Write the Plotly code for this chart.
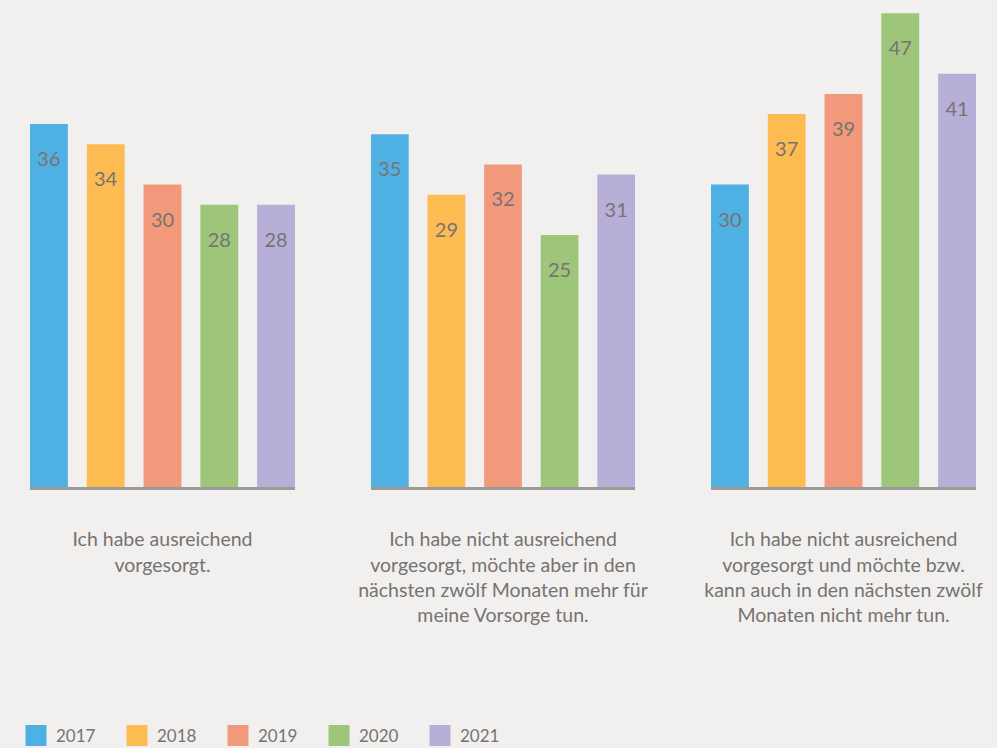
import plotly.graph_objects as go
from plotly.subplots import make_subplots

# Survey answers (one panel each) and the share of respondents per year, in %
categories = [
    "Ich habe ausreichend<br>vorgesorgt.",
    "Ich habe nicht ausreichend<br>vorgesorgt, möchte aber in den<br>nächsten zwölf Monaten mehr für<br>meine Vorsorge tun.",
    "Ich habe nicht ausreichend<br>vorgesorgt und möchte bzw.<br>kann auch in den nächsten zwölf<br>Monaten nicht mehr tun.",
]
years = ["2017", "2018", "2019", "2020", "2021"]
values = {
    "2017": [36, 35, 30],
    "2018": [34, 29, 37],
    "2019": [30, 32, 39],
    "2020": [28, 25, 47],
    "2021": [28, 31, 41],
}
colors = {
    "2017": "#4fb0e3",
    "2018": "#fdbc52",
    "2019": "#f2997b",
    "2020": "#9dc67a",
    "2021": "#b8afd8",
}

BG = "#f1f0ee"
TEXT = "#777371"
FONT = "Lato"

fig = make_subplots(rows=1, cols=3, horizontal_spacing=0.0)

for ci, cat in enumerate(categories):
    for y in years:
        fig.add_trace(
            go.Bar(
                x=[cat],
                y=[values[y][ci]],
                name=y,
                marker=dict(color=colors[y], line=dict(width=0)),
                text=[values[y][ci]],
                # a small blank first line keeps the value a little below the bar top
                texttemplate="<span style='font-size:13px'>\u00a0</span><br>%{y}",
                textposition="inside",
                insidetextanchor="end",
                textangle=0,
                textfont=dict(family=FONT, size=20, color=TEXT),
                showlegend=False,
                hoverinfo="skip",
            ),
            row=1, col=ci + 1,
        )

# Legend entries with large square swatches
for y in years:
    fig.add_trace(
        go.Scatter(
            x=[None], y=[None], mode="markers", name=y,
            marker=dict(symbol="square", size=16, color=colors[y],
                        line=dict(color=colors[y], width=5)),
            showlegend=True,
        ),
        row=1, col=1,
    )

W, H = 997, 748
x_domains = [(30, 295), (371, 635), (711, 976)]
base_px = 487
y0 = (H - base_px) / H
ymax = base_px / 10.08

half = 0.5 - 9.5 / 285
for i, (a, b) in enumerate(x_domains):
    suffix = "" if i == 0 else str(i + 1)
    fig.layout["xaxis" + suffix].update(
        domain=[a / W, b / W],
        range=[-half, half],
        showline=True, linecolor="#9b9a98", linewidth=3,
        showgrid=False, zeroline=False, ticks="",
        tickfont=dict(family=FONT, size=19.5, color=TEXT),
        ticklabelstandoff=33,
        automargin=False, fixedrange=True,
    )
    fig.layout["yaxis" + suffix].update(
        domain=[y0, 1], range=[0, ymax], visible=False,
        showgrid=False, zeroline=False, fixedrange=True,
    )

fig.update_layout(
    width=W, height=H,
    margin=dict(l=0, r=0, t=0, b=0, autoexpand=False),
    paper_bgcolor=BG, plot_bgcolor=BG,
    barmode="group", bargap=0.0, bargroupgap=1 / 3,
    font=dict(family=FONT, color=TEXT),
    legend=dict(
        orientation="h", x=16 / W, y=30 / H, xanchor="left", yanchor="top",
        font=dict(family=FONT, size=17, color=TEXT),
        entrywidth=56, entrywidthmode="pixels",
        bgcolor="rgba(0,0,0,0)", itemclick=False, itemdoubleclick=False,
    ),
)

fig.write_html("out.html")
